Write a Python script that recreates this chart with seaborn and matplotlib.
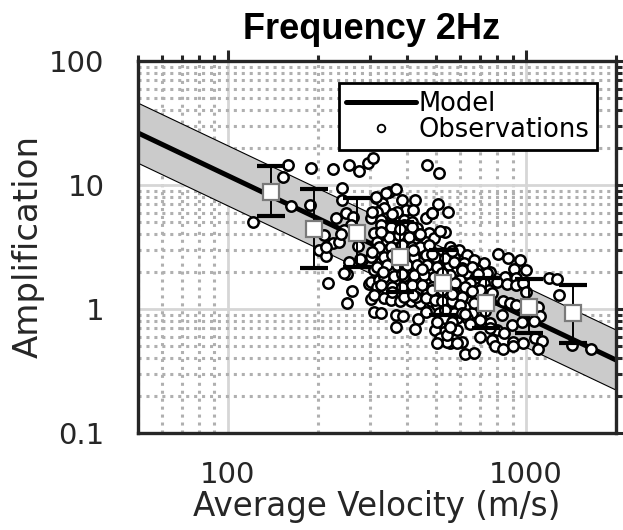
import numpy as np
import pandas as pd
import matplotlib
matplotlib.use("Agg")
import matplotlib.pyplot as plt
import matplotlib.ticker as mticker
from matplotlib.lines import Line2D
from matplotlib.font_manager import FontProperties
import seaborn as sns

# ---------------- data ----------------
obs_velocity = [
    121, 153, 159, 163, 189, 190, 226, 254, 276, 295, 307, 217, 260, 250, 301,
    242, 241, 202, 214, 226, 255, 281, 231, 248, 263, 258, 245, 210, 213, 235,
    239, 251, 245, 273, 278, 298, 465, 509, 425, 507, 546, 536, 346, 367, 313,
    328, 384, 310, 325, 367, 387, 435, 365, 423, 533, 586, 611, 557, 528, 625,
    666, 702, 720, 729, 806, 868, 954, 910, 996, 758, 852, 927, 796, 860, 927,
    977, 1000, 1195, 1270, 1290, 758, 838, 884, 921, 1097, 1114, 828, 895, 966,
    1060, 758, 796, 845, 768, 906, 977, 1072, 1128, 787, 838, 906, 1097, 1420,
    1650,
    313, 338, 397, 370, 333, 317, 301, 325, 351, 389, 415, 431, 460, 484, 471,
    420, 394, 360, 333, 309, 317, 342, 370, 399, 431, 460, 490, 557, 594, 633,
    667, 739, 684, 617, 572, 522, 484, 454, 426, 399, 370, 342, 317, 301, 325,
    346, 374, 404, 442, 478, 509, 550, 586, 633, 675, 720, 749, 650, 602, 557,
    516, 484, 448, 415, 384, 356, 329, 309, 301, 321, 346, 374, 404, 437, 471,
    509, 564, 594, 642, 684, 730, 633, 586, 543, 503, 465, 431, 399, 370, 342,
    317, 309, 333, 351, 379, 410, 442, 478, 503, 543, 586, 625, 658, 702, 633,
    586, 550, 509, 516, 557, 529, 496, 516, 543, 586, 503,
    325, 351, 389, 415, 346, 374, 404, 437, 321, 351, 384, 415, 442, 471, 333,
    360, 389, 420, 460, 496, 536, 317, 342, 370, 399, 431, 465, 503, 572, 609,
    658, 333, 360, 389, 420, 454, 490, 536, 579, 625, 702, 325, 356, 384, 415,
    448, 484, 522, 572, 609, 667, 389, 426, 460, 496, 522, 564, 602, 536, 572,
    609, 529, 564, 503, 543,
    305, 356, 416, 485, 325, 379, 442, 515, 305, 356, 416, 485, 566, 330, 385,
    449, 524, 611, 691, 356, 416, 485, 566, 660, 770, 460, 536, 625, 730, 557,
    650, 758,
]
obs_amplification = [
    5.0, 11.5, 14.5, 6.8, 6.9, 13.8, 13.5, 14.4, 13.0, 15.1, 16.5, 1.63, 1.40, 1.11, 1.20,
    9.5, 7.6, 3.0, 2.7, 3.4, 2.4, 2.5, 5.4, 6.0, 5.5, 4.8, 4.3, 3.95, 3.15, 3.45,
    4.0, 1.9, 1.96, 3.2, 2.55, 1.6, 14.5, 12.6, 7.6, 7.0, 6.1, 4.2, 8.85, 9.2, 7.8,
    7.1, 7.6, 0.95, 0.92, 0.89, 0.87, 0.83, 0.71, 0.69, 0.64, 0.68, 0.545, 0.535, 0.58, 0.43,
    0.44, 0.60, 2.35, 1.9, 2.8, 2.6, 2.5, 2.1, 2.06, 2.0, 1.82, 1.77, 1.66, 1.6, 1.55,
    1.63, 1.38, 1.77, 1.74, 1.3, 1.15, 1.17, 1.11, 1.08, 1.04, 0.87, 0.89, 0.74, 0.79,
    0.80, 0.77, 0.68, 0.64, 0.56, 0.545, 0.535, 0.58, 0.555, 0.50, 0.48, 0.50, 0.48, 0.51,
    0.475,
    8.05, 8.57, 6.29, 6.10, 6.48, 6.10, 5.39, 5.22, 5.06, 5.22, 5.06, 4.47, 5.39, 5.91, 4.08,
    4.20, 4.34, 4.20, 4.34, 4.08, 3.49, 3.49, 3.60, 3.60, 3.60, 3.49, 3.72, 3.18, 2.99, 2.73,
    2.48, 1.94, 2.06, 2.34, 2.64, 2.81, 2.90, 2.99, 2.99, 2.99, 3.09, 2.99, 2.90, 2.64, 2.41,
    2.48, 2.56, 2.48, 2.48, 2.48, 2.41, 2.26, 2.06, 1.94, 1.77, 1.61, 1.42, 1.61, 1.71, 1.88,
    2.00, 2.06, 2.06, 2.06, 2.00, 2.06, 2.00, 2.06, 1.66, 1.71, 1.71, 1.66, 1.71, 1.77, 1.71,
    1.61, 1.51, 1.42, 1.34, 1.22, 1.30, 1.15, 1.22, 1.26, 1.34, 1.38, 1.42, 1.42, 1.38, 1.42,
    1.51, 1.30, 1.22, 1.18, 1.15, 1.15, 1.11, 1.15, 1.08, 1.04, 0.98, 1.04, 0.92, 0.815, 0.84,
    0.84, 0.895, 0.92, 0.767, 0.72, 0.657, 0.677, 0.58, 0.545, 0.529, 0.529,
    4.76, 4.61, 4.76, 4.61, 3.83, 3.95, 3.83, 3.95, 3.18, 3.18, 3.28, 3.18, 3.18, 3.28, 2.64,
    2.73, 2.73, 2.64, 2.73, 2.64, 2.56, 2.19, 2.26, 2.26, 2.26, 2.26, 2.26, 2.19, 2.41, 2.13,
    2.19, 1.82, 1.85, 1.85, 1.88, 1.88, 1.82, 1.71, 1.61, 1.51, 1.42, 1.56, 1.51, 1.51, 1.56,
    1.56, 1.51, 1.42, 1.34, 1.26, 1.11, 1.26, 1.26, 1.22, 1.18, 1.15, 1.15, 1.08, 0.98, 0.92,
    0.92, 0.84, 0.79, 0.79, 0.617,
    6.06, 5.80, 6.30, 5.90, 4.18, 4.40, 4.00, 4.25, 2.88, 2.75, 3.00, 2.80, 2.95, 1.99, 1.90,
    2.10, 1.95, 2.05, 1.90, 1.37, 1.30, 1.42, 1.33, 1.40, 1.35, 0.946, 0.98, 0.91, 0.96, 0.716,
    0.75, 0.70,
]

model_velocity = [50, 2000]
model_amplification = [26.3, 0.388]
band_upper = [45.8, 0.678]
band_lower = [15.0, 0.222]

bin_velocity = [140, 194, 272, 379, 527, 734, 1023, 1435]
bin_mean = [8.83, 4.42, 4.12, 2.64, 1.62, 1.11, 1.04, 0.93]
bin_low = [5.6, 2.14, 2.18, 1.38, 0.895, 0.70, 0.64, 0.53]
bin_high = [14.1, 9.3, 7.8, 5.06, 2.99, 1.78, 1.75, 1.56]

title_text = "Frequency 2Hz"
xlabel_text = "Average Velocity (m/s)"
ylabel_text = "Amplification"
legend_labels = ["Model", "Observations"]
x_ticks = [100, 1000]
y_ticks = [0.1, 1, 10, 100]

# ---------------- figure ----------------
sns.set_theme(style="white")
plt.rcParams["font.family"] = ["DejaVu Sans"]

fig = plt.figure(figsize=(6.23, 5.30), dpi=100)
ax = fig.add_axes([138 / 623, 1 - 433 / 530, (616 - 138) / 623, (433 - 61) / 530])
ax.set_xscale("log")
ax.set_yscale("log")
ax.set_xlim(50, 2000)
ax.set_ylim(0.1, 100)

# grid
ax.set_axisbelow(True)
ax.grid(which="major", color="#d6d6d6", linestyle="-", linewidth=2.0, zorder=0)
ax.grid(which="minor", color="#b0b0b0", linestyle=(0, (1.0, 1.6)), linewidth=2.2, zorder=0)

# uncertainty band
ax.fill_between(model_velocity, band_lower, band_upper, facecolor="#cbcbcb",
                edgecolor="none", zorder=1)
ax.plot(model_velocity, band_upper, color="black", lw=0.8, zorder=1.5)
ax.plot(model_velocity, band_lower, color="black", lw=0.8, zorder=1.5)

# model line
model_df = pd.DataFrame({"v": model_velocity, "a": model_amplification})
sns.lineplot(data=model_df, x="v", y="a", ax=ax, color="black", lw=3.6,
             zorder=2, legend=False)

# observations
obs_df = pd.DataFrame({"v": obs_velocity, "a": obs_amplification})
sns.scatterplot(data=obs_df, x="v", y="a", ax=ax, marker="o", s=56,
                facecolor="white", edgecolor="black", linewidth=1.8,
                zorder=3, legend=False)

# binned means with error bars
bm = np.array(bin_mean)
yerr = np.vstack([bm - np.array(bin_low), np.array(bin_high) - bm])
ax.errorbar(bin_velocity, bin_mean, yerr=yerr, fmt="none", ecolor="black",
            elinewidth=1.4, capsize=10, capthick=3.0, zorder=4)
ax.plot(bin_velocity, bin_mean, linestyle="none", marker="s", markersize=11.5,
        markerfacecolor="white", markeredgecolor="#7a7a7a", markeredgewidth=1.6,
        zorder=5)

# legend
handles = [
    Line2D([0], [0], color="black", lw=3.6),
    Line2D([0], [0], linestyle="none", marker="o", markersize=5.5,
           markerfacecolor="white", markeredgecolor="black", markeredgewidth=1.3),
]
leg = ax.legend(handles, legend_labels, loc="upper right",
                bbox_to_anchor=((597 - 138) / 478, (433 - 83) / 372),
                borderaxespad=0, frameon=True, fancybox=False, framealpha=1,
                edgecolor="black", prop={"family": "DejaVu Sans", "size": 18.5},
                handlelength=2.7, handletextpad=0.1, borderpad=0.3, labelspacing=0.0)
leg.get_frame().set_linewidth(2.0)
leg.set_zorder(10)
for t in leg.get_texts():
    t.set_color("black")

# axes styling
for sp in ax.spines.values():
    sp.set_color("#262626")
    sp.set_linewidth(2.4)
    sp.set_visible(True)
ax.tick_params(which="both", direction="out", top=True, right=True,
               color="#262626", width=2.2)
ax.tick_params(which="major", length=8)
ax.tick_params(which="minor", length=4)

ax.xaxis.set_major_locator(mticker.FixedLocator(x_ticks))
ax.yaxis.set_major_locator(mticker.FixedLocator(y_ticks))
ax.xaxis.set_minor_locator(mticker.LogLocator(base=10, subs=np.arange(2, 10), numticks=20))
ax.yaxis.set_minor_locator(mticker.LogLocator(base=10, subs=np.arange(2, 10), numticks=20))
ax.xaxis.set_major_formatter(mticker.FuncFormatter(lambda v, p: f"{v:g}"))
ax.yaxis.set_major_formatter(mticker.FuncFormatter(lambda v, p: f"{v:g}"))
ax.xaxis.set_minor_formatter(mticker.NullFormatter())
ax.yaxis.set_minor_formatter(mticker.NullFormatter())

tick_fp = FontProperties(family="DejaVu Sans", size=21)
for lab in ax.get_xticklabels() + ax.get_yticklabels():
    lab.set_fontproperties(tick_fp)
    lab.set_color("#262626")
ax.tick_params(axis="x", pad=12)
ax.tick_params(axis="y", pad=16)

ax.set_xlabel(xlabel_text, fontproperties=FontProperties(family="DejaVu Sans", size=23.5),
              color="#262626", labelpad=1)
ax.set_ylabel(ylabel_text, fontproperties=FontProperties(family="DejaVu Sans", size=24.5),
              color="#262626", labelpad=3)

fig.text(0.597, 0.945, title_text, ha="center", va="center", color="black",
         fontfamily=["Liberation Sans", "DejaVu Sans"],
         fontweight="bold", fontsize=26)

fig.savefig("out.png", dpi=100)
